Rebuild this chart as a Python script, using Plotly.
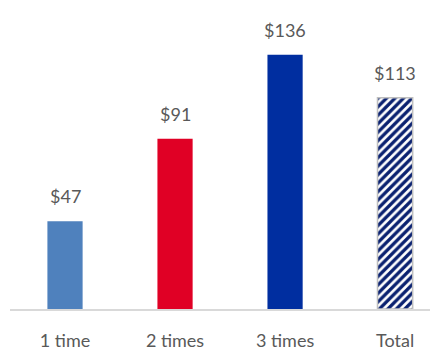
import plotly.graph_objects as go

categories = ["1 time", "2 times", "3 times", "Total"]
values = [47, 91, 136, 113]
colors = ["#4f81bd", "#e00025", "#002ea0"]

FONT = "Lato, Open Sans, sans-serif"
xs = list(range(len(categories)))

fig = go.Figure()
fig.add_trace(go.Bar(
    x=xs[:3], y=values[:3], width=0.32,
    marker=dict(color=colors, line=dict(width=0)),
    hoverinfo="skip",
))
fig.add_trace(go.Bar(
    x=xs[3:], y=values[3:], width=0.32,
    marker=dict(
        color="#ffffff",
        line=dict(color="#bfbfbf", width=1.5),
        pattern=dict(shape="/", fgcolor="#0a2170", bgcolor="#ffffff",
                     size=6, solidity=0.55, fillmode="overlay", fgopacity=1),
    ),
    hoverinfo="skip",
))

for x, v in zip(xs, values):
    fig.add_annotation(x=x, y=v, text=f"${v}", showarrow=False,
                       yanchor="bottom", yshift=12,
                       font=dict(family=FONT, size=18, color="#595959"))

# the page body has an 8px margin, so the figure is sized to fit the window
fig.update_layout(
    width=430, height=339,
    margin=dict(l=2, r=0, t=0, b=37.5, autoexpand=False),
    plot_bgcolor="white", paper_bgcolor="white",
    showlegend=False,
    barmode="overlay",
    xaxis=dict(
        tickmode="array", tickvals=xs, ticktext=categories,
        range=[-0.5, 3.39], automargin=False,
        showline=True, linecolor="#d9d9d9", linewidth=1.5,
        showgrid=False, zeroline=False,
        ticks="", ticklabelstandoff=15,
        tickfont=dict(family=FONT, size=18, color="#595959"),
    ),
    yaxis=dict(range=[0, 161], visible=False, showgrid=False, zeroline=False,
               automargin=False),
)

fig.write_html("out.html")
